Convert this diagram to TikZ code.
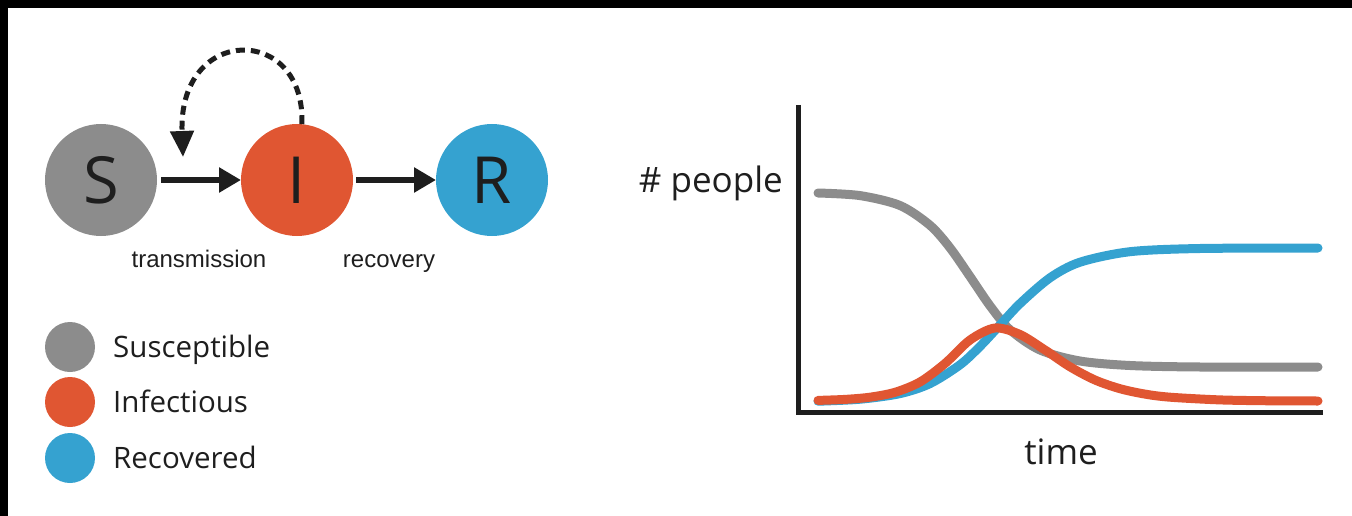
\documentclass[tikz,border=0pt]{standalone}
\usepackage{fontspec}
\setmainfont{Open Sans}
\newfontfamily\ratefont{Liberation Sans}
\usetikzlibrary{arrows.meta, positioning, calc}

\definecolor{susc}{RGB}{140,140,140}
\definecolor{infc}{RGB}{224,86,50}
\definecolor{recv}{RGB}{53,162,208}
\definecolor{ink}{RGB}{30,30,30}

\begin{document}
\begin{tikzpicture}[
    x=1pt, y=-1pt,
    comp/.style={circle, minimum size=112pt, inner sep=0pt, outer sep=0pt, font=\fontsize{65}{65}\selectfont, text=ink},
    swatch/.style={circle, minimum size=50pt, inner sep=0pt},
    legtext/.style={anchor=base west, inner sep=0pt, font=\fontsize{29.5}{32}\selectfont, text=ink},
    rate/.style={anchor=base, inner sep=0pt, font=\ratefont\fontsize{24}{26}\selectfont, text=ink},
    axlab/.style={inner sep=0pt, font=\fontsize{35}{37}\selectfont, text=ink},
    flow/.style={-{Triangle[length=22pt, width=24pt]}, line width=6pt, ink},
    contact/.style={-{Triangle[length=26pt, width=23pt]}, line width=5pt, ink, dash pattern=on 9pt off 6pt},
    axis/.style={line width=5pt, ink},
    curve/.style={line width=9pt, line cap=round, line join=round},
]
\useasboundingbox (0,0) rectangle (1352,516);
\fill[black] (0,0) rectangle (1352,8);
\fill[black] (0,0) rectangle (8,516);

% compartments
\node[comp, fill=susc] (S) at (101,180) {S};
\node[comp, fill=infc] (I) at (297,180) {I};
\node[comp, fill=recv] (R) at (492,180) {R};

\draw[flow, shorten <=4pt] (S) -- (I);
\draw[flow, shorten <=3pt] (I) -- (R);

\coordinate (hit) at (183,157);
\draw[contact] (I.85) .. controls (306,24) and (178,24) .. (hit);

\node[rate] (trans) at (199,267) {transmission};
\node[rate] (recov) at (389,267) {recovery};

% legend
\node[swatch, fill=susc] (kS) at (70,347) {};
\node[swatch, fill=infc] (kI) at (70,402) {};
\node[swatch, fill=recv] (kR) at (70,458) {};
\node[legtext] (tS) at (113,357) {Susceptible};
\node[legtext] (tI) at (113,412) {Infectious};
\node[legtext] (tR) at (113,468) {Recovered};

% epidemic curves
\draw[axis] (798,105) |- (1323,412);
\node[axlab, anchor=base east] (ylab) at (783,192) {\# people};
\node[axlab, anchor=base] (xlab) at (1061,464) {time};

\draw[curve, susc] plot[smooth] coordinates {(818,193) (860,195.6) (900,205.5) (930,225.3) (950,247.8) (970,276.5) (990,305.8) (1010,329.8) (1040,350) (1080,361) (1130,365.5) (1200,367) (1318,367)};
\draw[curve, recv] plot[smooth] coordinates {(818,401.2) (860,399.2) (900,393.6) (930,383.6) (960,364.8) (980,346.4) (1000,325) (1020,303.6) (1050,277.8) (1080,262.2) (1130,251.7) (1200,248.5) (1318,248)};
\draw[curve, infc] plot[smooth] coordinates {(818,400.4) (845,399.4) (870,397.2) (895,392.3) (920,382) (945,363.5) (970,340) (995,328) (1020,334.5) (1045,350) (1070,366.8) (1095,380) (1120,388.7) (1145,394.1) (1170,397.2) (1220,399.9) (1270,400.8) (1318,401)};

\end{tikzpicture}
\end{document}
